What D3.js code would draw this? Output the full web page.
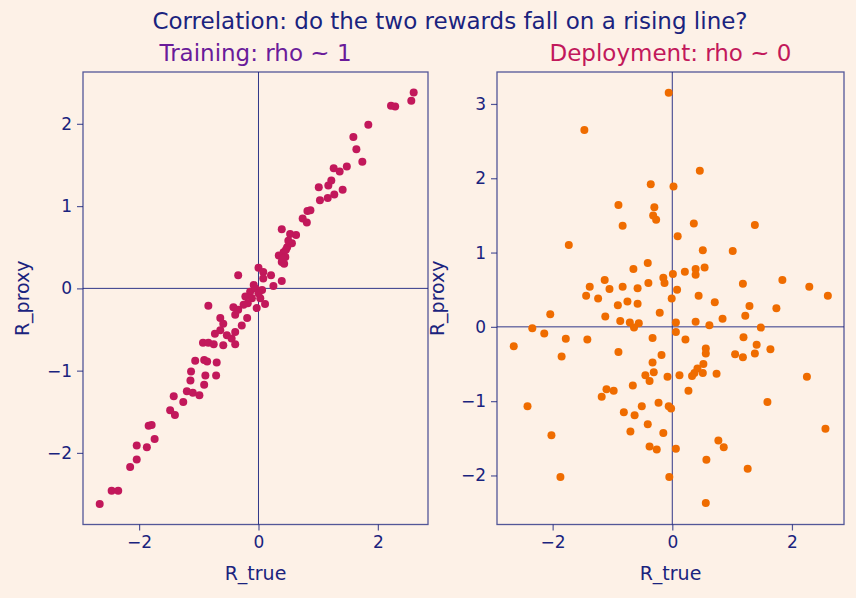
<!DOCTYPE html>
<html>
<head>
<meta charset="utf-8">
<script src="https://cdn.jsdelivr.net/npm/d3@7"></script>
<style>
    body { margin: 0; background: #fdf1e7; }
    svg { display: block; font-family: "DejaVu Sans", sans-serif; }
</style>
</head>
<body>
<div id="chart"></div>
<script>
const suptitle = "Correlation: do the two rewards fall on a rising line?";
const panelTitles = ["Training: rho ~ 1", "Deployment: rho ~ 0"];
const xLabel = "R_true";
const yLabel = "R_proxy";
const xTicks = [-2, 0, 2];
const trainYTicks = [-2, -1, 0, 1, 2];
const deployYTicks = [-2, -1, 0, 1, 2, 3];

// training: proxy tracks the true reward
const trainTrue = [2.60, 2.56, 2.22, 2.29, 1.84, 1.59, 1.64, 1.74, 1.26, 1.36, 1.48, 1.22, 1.17, 1.01, 1.41,
    1.27, 1.16, 1.03, 0.82, 0.74, 0.81, 0.87, 0.39, 0.53, 0.63, 0.56, 0.48, 0.42, 0.34, 0.45, 0.39, 0.43,
    0.50, 0.46, 0.40, 0.00, -0.34, 0.08, 0.21, 0.08, 0.39, 0.25, -0.08, 0.06, -0.14, -0.22, -0.11, 0.03,
    0.11, -0.03, -0.05, 0.00, -0.18, -0.25, -0.84, -0.42, -0.34, -0.39, -0.19, -0.64, -0.59, -0.28, -0.64,
    -0.73, -0.53, -0.39, -0.45, -0.93, -0.84, -0.75, -0.59, -0.39, -1.06, -0.91, -0.86, -0.70, -1.13, -0.89,
    -0.71, -1.14, -0.91, -1.20, -1.10, -0.99, -1.42, -1.26, -1.48, -1.40, -1.84, -1.79, -1.74, -2.04, -1.87,
    -2.04, -2.15, -2.46, -2.35, -2.66];
const trainProxy = [2.38, 2.28, 2.22, 2.21, 1.99, 1.84, 1.69, 1.54, 1.46, 1.42, 1.48, 1.31, 1.25, 1.23, 1.20,
    1.14, 1.10, 1.07, 0.94, 0.85, 0.80, 0.95, 0.72, 0.66, 0.65, 0.55, 0.50, 0.44, 0.40, 0.38, 0.32, 0.30,
    0.58, 0.47, 0.36, 0.25, 0.16, 0.20, 0.16, 0.12, 0.09, 0.03, 0.04, -0.02, -0.04, -0.10, -0.12, -0.12,
    -0.19, -0.24, 0.00, -0.06, -0.18, -0.20, -0.21, -0.23, -0.26, -0.32, -0.36, -0.36, -0.43, -0.45, -0.51,
    -0.55, -0.57, -0.53, -0.61, -0.66, -0.66, -0.68, -0.69, -0.68, -0.88, -0.87, -0.89, -0.90, -1.01, -1.06,
    -1.06, -1.12, -1.17, -1.25, -1.27, -1.30, -1.31, -1.38, -1.48, -1.54, -1.67, -1.66, -1.83, -1.91, -1.93,
    -2.08, -2.17, -2.46, -2.46, -2.62];

// deployment: no relation left
const deployTrue = [-0.06, -1.47, 0.46, -0.36, 0.02, -0.90, -0.30, -0.32, -0.27, -0.83, 0.36, 1.38, 0.09,
    -1.73, 0.51, 1.01, -0.41, -0.65, 0.39, 0.54, 0.21, 0.01, 0.39, -0.15, -0.13, -1.13, -0.40, 1.84, 1.18,
    -1.38, -1.05, -0.83, -0.58, 0.08, 2.29, 2.60, -1.44, -1.24, 0.44, -0.01, -0.91, -0.75, -0.58, 0.71, 1.29,
    1.74, -2.04, -1.12, -0.21, 1.22, 0.84, -0.87, -0.71, -0.56, -0.64, 0.06, 0.39, 0.62, 1.48, -2.34, -2.14,
    -2.65, -1.78, -1.42, 0.06, -0.33, 0.22, 1.19, 1.41, -0.90, -1.85, 0.56, 0.56, -0.18, 1.05, 1.18, 1.38,
    1.64, -0.33, 0.52, 0.42, -0.31, 0.37, 0.51, 0.74, -0.45, -0.08, 0.12, 0.33, 2.25, -0.38, -0.66, -1.10,
    -0.98, -1.18, 0.27, -2.42, -0.23, -0.51, -0.06, -0.02, 1.59, -0.81, -0.63, -0.41, -0.15, -0.70, -2.02,
    2.56, 0.77, 0.86, -0.38, -0.26, 0.06, 0.57, 1.26, -1.87, -0.05, 0.56];
const deployProxy = [3.15, 2.65, 2.10, 1.92, 1.89, 1.64, 1.61, 1.50, 1.44, 1.36, 1.39, 1.37, 1.22,
    1.10, 1.03, 1.02, 0.86, 0.78, 0.78, 0.80, 0.74, 0.71, 0.70, 0.66, 0.59, 0.63, 0.59, 0.63, 0.58,
    0.54, 0.51, 0.54, 0.52, 0.50, 0.54, 0.42, 0.42, 0.38, 0.42, 0.38, 0.29, 0.34, 0.31, 0.33, 0.28,
    0.25, 0.17, 0.14, 0.19, 0.15, 0.11, 0.08, 0.06, 0.05, -0.01, 0.06, 0.07, 0.02, -0.01, -0.02, -0.09,
    -0.26, -0.16, -0.17, -0.07, -0.15, -0.17, -0.14, -0.24, -0.34, -0.40, -0.29, -0.36, -0.38, -0.37, -0.41, -0.36,
    -0.30, -0.48, -0.50, -0.56, -0.61, -0.62, -0.62, -0.63, -0.65, -0.67, -0.65, -0.66, -0.67, -0.73, -0.79, -0.84,
    -0.86, -0.94, -0.86, -1.07, -1.02, -1.07, -1.07, -1.10, -1.01, -1.15, -1.19, -1.31, -1.43, -1.41, -1.46,
    -1.37, -1.53, -1.62, -1.61, -1.65, -1.64, -1.79, -1.91, -2.02, -2.02, -2.37];

const width = 856;
const height = 598;
const ink = "#1a237e";
const plotTop = 72;
const plotBottom = 524.5;

const svg = d3.select("#chart")
    .append("svg")
    .attr("width", width)
    .attr("height", height);

svg.append("rect")
    .attr("width", width)
    .attr("height", height)
    .attr("fill", "#fdf1e7");

svg.append("text")
    .attr("x", 450)
    .attr("y", 29)
    .attr("text-anchor", "middle")
    .attr("fill", ink)
    .style("font-size", "23px")
    .text(suptitle);

const panels = [
    { left: 83, right: 428, xDomain: [-2.94, 2.84], yDomain: [-2.87, 2.63], yTicks: trainYTicks,
      xs: trainTrue, ys: trainProxy, dot: "#c2185b", titleColor: "#6a1b9a", title: panelTitles[0], yLabelX: 22 },
    { left: 497, right: 844, xDomain: [-2.93, 2.87], yDomain: [-2.66, 3.43], yTicks: deployYTicks,
      xs: deployTrue, ys: deployProxy, dot: "#ef6c00", titleColor: "#c2185b", title: panelTitles[1], yLabelX: 437 }
];

panels.forEach(p => {
    const x = d3.scaleLinear().domain(p.xDomain).range([p.left, p.right]);
    const y = d3.scaleLinear().domain(p.yDomain).range([plotBottom, plotTop]);
    const g = svg.append("g");

    // zero lines
    g.append("line")
        .attr("x1", p.left).attr("x2", p.right)
        .attr("y1", y(0)).attr("y2", y(0))
        .attr("stroke", ink).attr("stroke-width", 0.9);
    g.append("line")
        .attr("x1", x(0)).attr("x2", x(0))
        .attr("y1", plotTop).attr("y2", plotBottom)
        .attr("stroke", ink).attr("stroke-width", 0.9);

    g.selectAll("circle")
        .data(p.xs.map((v, i) => [v, p.ys[i]]))
        .join("circle")
        .attr("cx", d => x(d[0]))
        .attr("cy", d => y(d[1]))
        .attr("r", 4)
        .attr("fill", p.dot);

    const xAxis = g.append("g")
        .attr("transform", `translate(0, ${plotBottom})`)
        .call(d3.axisBottom(x).tickValues(xTicks).tickFormat(d3.format("d")).tickSize(6).tickPadding(5));
    const yAxis = g.append("g")
        .attr("transform", `translate(${p.left}, 0)`)
        .call(d3.axisLeft(y).tickValues(p.yTicks).tickFormat(d3.format("d")).tickSize(6).tickPadding(5));

    [xAxis, yAxis].forEach(a => {
        a.select(".domain").remove();
        a.selectAll(".tick line").attr("stroke", ink).attr("stroke-opacity", 0.75).attr("stroke-width", 1.2);
        a.selectAll(".tick text")
            .attr("fill", ink)
            .style("font-size", "17px")
            .style("font-family", "DejaVu Sans, sans-serif");
    });

    // frame
    g.append("rect")
        .attr("x", p.left).attr("y", plotTop)
        .attr("width", p.right - p.left).attr("height", plotBottom - plotTop)
        .attr("fill", "none")
        .attr("stroke", ink).attr("stroke-opacity", 0.75).attr("stroke-width", 1.3);

    g.append("text")
        .attr("x", (p.left + p.right) / 2)
        .attr("y", 61)
        .attr("text-anchor", "middle")
        .attr("fill", p.titleColor)
        .style("font-size", "23px")
        .text(p.title);

    g.append("text")
        .attr("x", (p.left + p.right) / 2)
        .attr("y", 580)
        .attr("text-anchor", "middle")
        .attr("fill", ink)
        .style("font-size", "19px")
        .text(xLabel);

    g.append("text")
        .attr("transform", `translate(${p.yLabelX}, ${(plotTop + plotBottom) / 2}) rotate(-90)`)
        .attr("text-anchor", "middle")
        .attr("dy", "0.35em")
        .attr("fill", ink)
        .style("font-size", "19px")
        .text(yLabel);
});
</script>
</body>
</html>
